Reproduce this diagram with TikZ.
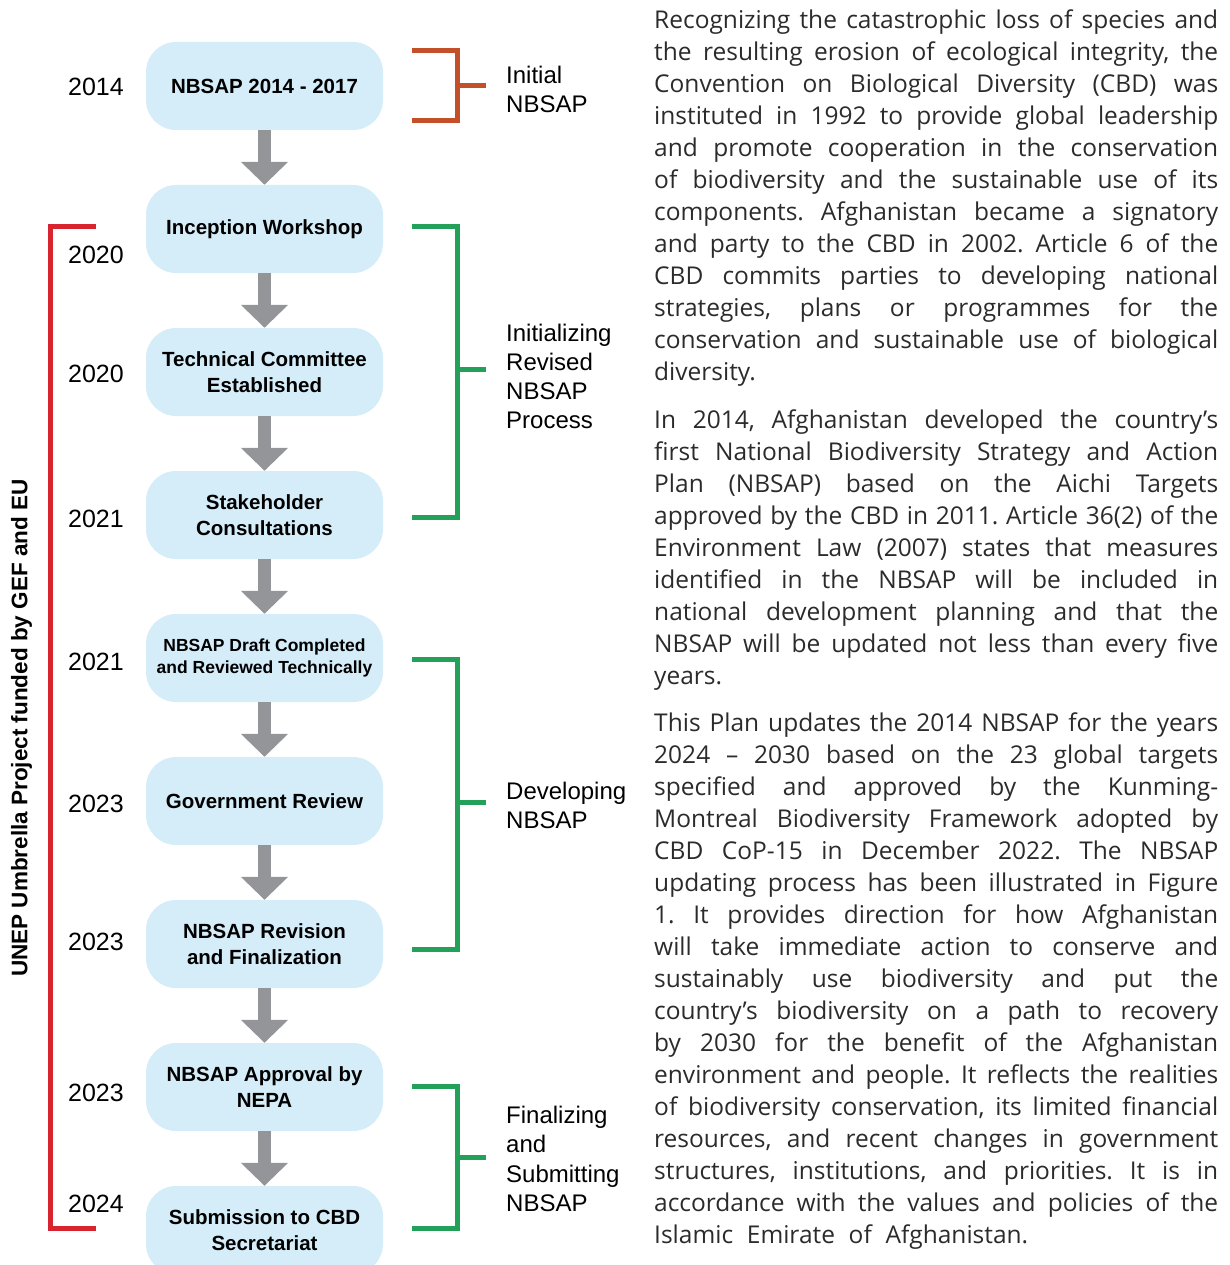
\documentclass[tikz,border=0pt]{standalone}
\usepackage{fontspec}
\usetikzlibrary{arrows.meta}
\setmainfont{Open Sans}
\newfontfamily\sansfont{Liberation Sans}
\newfontfamily\bodyfont{Open Sans}
\definecolor{boxblue}{HTML}{D4EDF9}
\definecolor{arrowgrey}{HTML}{939598}
\definecolor{bracketorange}{HTML}{C4502A}
\definecolor{bracketgreen}{HTML}{23A05A}
\definecolor{bracketred}{HTML}{D7242E}
\definecolor{bodyink}{HTML}{2B2B2B}
\newcommand\bodyline[1]{\hbox to 564pt{#1}}
\newcommand\bodylast[1]{\hbox{#1}}
\newcommand\bodysetup{\frenchspacing\spaceskip=0.28em plus 1em minus 0.03em\baselineskip=32pt}
\tikzset{
  stepbox/.style={rounded corners=30pt, fill=boxblue, minimum width=237pt, minimum height=88pt,
    inner sep=0pt, align=center, text=black, font=\sansfont\bfseries\fontsize{20.5}{26}\selectfont},
  yearlabel/.style={anchor=base east, inner sep=0pt, font=\sansfont\fontsize{25}{30}\selectfont},
  phaselabel/.style={anchor=base west, inner sep=0pt, font=\sansfont\fontsize{24}{29}\selectfont},
  flowarrow/.style={draw=arrowgrey, line width=13pt, -{Triangle[width=46pt,length=23pt]}, fill=arrowgrey},
  bracket/.style={line width=5pt, miter limit=10},
  bodytext/.style={anchor=base west, inner sep=0pt, text=bodyink, font=\bodyfont\fontsize{24.5}{32}\selectfont}
}
\begin{document}
\begin{tikzpicture}[x=1pt,y=-1pt]
\useasboundingbox (0,0) rectangle (1230,1265);
% steps
\node[stepbox] (s1) at (264.5,86) {NBSAP 2014 - 2017};
\node[stepbox] (s2) at (264.5,229) {Inception Workshop};
\node[stepbox] (s3) at (264.5,372) {Technical Committee\\Established};
\node[stepbox] (s4) at (264.5,515) {Stakeholder\\Consultations};
\node[stepbox, font=\sansfont\bfseries\fontsize{17.5}{22}\selectfont] (s5) at (264.5,658) {NBSAP Draft Completed\\and Reviewed Technically};
\node[stepbox] (s6) at (264.5,801) {Government Review};
\node[stepbox] (s7) at (264.5,944) {NBSAP Revision\\and Finalization};
\node[stepbox] (s8) at (264.5,1087) {NBSAP Approval by\\NEPA};
\node[stepbox] (s9) at (264.5,1230) {Submission to CBD\\Secretariat};
% arrows
\foreach \a/\b in {s1/s2,s2/s3,s3/s4,s4/s5,s5/s6,s6/s7,s7/s8,s8/s9}
  \draw[flowarrow] (\a.south) -- (\b.north);
% years
\node[yearlabel] (y1) at (124,96) {2014};
\node[yearlabel] (y2) at (124,263) {2020};
\node[yearlabel] (y3) at (124,382) {2020};
\node[yearlabel] (y4) at (124,527) {2021};
\node[yearlabel] (y5) at (124,670) {2021};
\node[yearlabel] (y6) at (124,812) {2023};
\node[yearlabel] (y7) at (124,950) {2023};
\node[yearlabel] (y8) at (124,1101) {2023};
\node[yearlabel] (y9) at (124,1212) {2024};
% red project bracket
\draw[bracket, bracketred] (96,227) -- (50,227) -- (50,1228) -- (96,1228);
\node[rotate=90, inner sep=0pt, font=\sansfont\bfseries\fontsize{22.5}{27}\selectfont] (umbrella) at (21.5,728) {UNEP Umbrella Project funded by GEF and EU};
% phase brackets
\draw[bracket, bracketorange] (412,51) -- (457.5,51) -- (457.5,121) -- (412,121);
\draw[bracket, bracketorange] (457.5,86) -- (486,86);
\draw[bracket, bracketgreen] (412,227) -- (457.5,227) -- (457.5,517) -- (412,517);
\draw[bracket, bracketgreen] (457.5,369) -- (486,369);
\draw[bracket, bracketgreen] (412,659) -- (457.5,659) -- (457.5,949) -- (412,949);
\draw[bracket, bracketgreen] (457.5,802) -- (486,802);
\draw[bracket, bracketgreen] (412,1086) -- (457.5,1086) -- (457.5,1228) -- (412,1228);
\draw[bracket, bracketgreen] (457.5,1157) -- (486,1157);
% phase labels
\node[phaselabel] (ph1) at (506,84) {\vtop{\baselineskip=29pt\hbox{Initial}\hbox{NBSAP}}};
\node[phaselabel] (ph2) at (506,341) {\vtop{\baselineskip=29pt\hbox{Initializing}\hbox{Revised}\hbox{NBSAP}\hbox{Process}}};
\node[phaselabel] (ph3) at (506,799) {\vtop{\baselineskip=29pt\hbox{Developing}\hbox{NBSAP}}};
\node[phaselabel] (ph4) at (506,1123) {\vtop{\baselineskip=29.5pt\hbox{Finalizing}\hbox{and}\hbox{Submitting}\hbox{NBSAP}}};
% body text
\node[bodytext] (p1) at (654,29) {\vtop{\bodysetup
\bodyline{Recognizing the catastrophic loss of species and}
\bodyline{the resulting erosion of ecological integrity, the}
\bodyline{Convention on Biological Diversity (CBD) was}
\bodyline{instituted in 1992 to provide global leadership}
\bodyline{and promote cooperation in the conservation}
\bodyline{of biodiversity and the sustainable use of its}
\bodyline{components. Afghanistan became a signatory}
\bodyline{and party to the CBD in 2002. Article 6 of the}
\bodyline{CBD commits parties to developing national}
\bodyline{strategies, plans or programmes for the}
\bodyline{conservation and sustainable use of biological}
\bodylast{diversity.}}};
\node[bodytext] (p2) at (654,428) {\vtop{\bodysetup
\bodyline{In 2014, Afghanistan developed the country’s}
\bodyline{first National Biodiversity Strategy and Action}
\bodyline{Plan (NBSAP) based on the Aichi Targets}
\bodyline{approved by the CBD in 2011. Article 36(2) of the}
\bodyline{Environment Law (2007) states that measures}
\bodyline{identified in the NBSAP will be included in}
\bodyline{national development planning and that the}
\bodyline{NBSAP will be updated not less than every five}
\bodylast{years.}}};
\node[bodytext] (p3) at (654,731) {\vtop{\bodysetup
\bodyline{This Plan updates the 2014 NBSAP for the years}
\bodyline{2024 – 2030 based on the 23 global targets}
\bodyline{specified and approved by the Kunming-}
\bodyline{Montreal Biodiversity Framework adopted by}
\bodyline{CBD CoP-15 in December 2022. The NBSAP}
\bodyline{updating process has been illustrated in Figure}
\bodyline{1. It provides direction for how Afghanistan}
\bodyline{will take immediate action to conserve and}
\bodyline{sustainably use biodiversity and put the}
\bodyline{country’s biodiversity on a path to recovery}
\bodyline{by 2030 for the benefit of the Afghanistan}
\bodyline{environment and people. It reflects the realities}
\bodyline{of biodiversity conservation, its limited financial}
\bodyline{resources, and recent changes in government}
\bodyline{structures, institutions, and priorities. It is in}
\bodyline{accordance with the values and policies of the}
\bodylast{Islamic\ \ Emirate\ \ of\ \ Afghanistan.}}};
\end{tikzpicture}
\end{document}
